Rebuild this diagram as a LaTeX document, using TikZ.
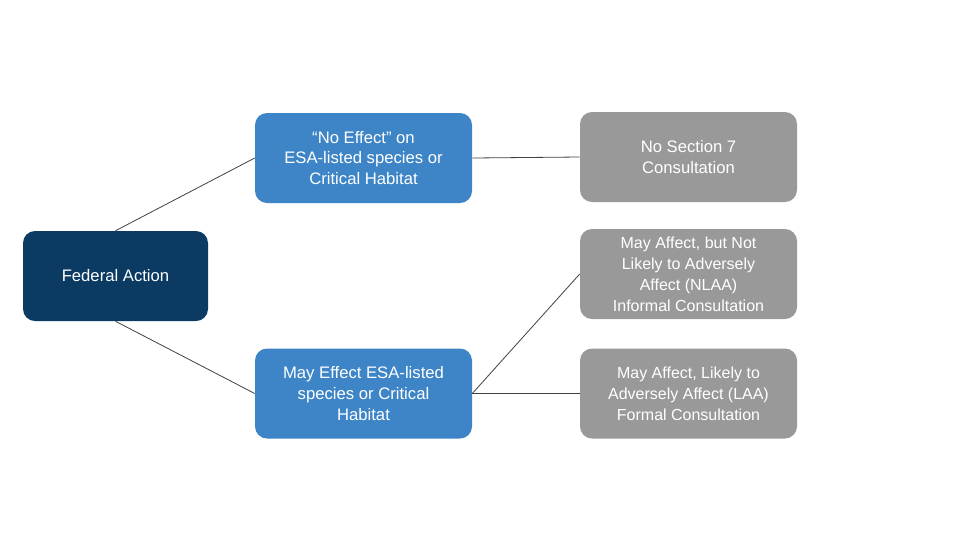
\documentclass[tikz,border=0pt]{standalone}
\usepackage{fontspec}
\setmainfont{Liberation Sans}
\definecolor{dblue}{HTML}{0B3A62}
\definecolor{mblue}{HTML}{3D85C6}
\definecolor{gbox}{HTML}{999999}
\begin{document}
\begin{tikzpicture}[x=0.75pt,y=-0.75pt,
  box/.style={rounded corners=9pt,minimum width=162.75pt,minimum height=67.5pt,text=white,align=center,inner sep=0pt,font=\fontsize{12.5}{15.5}\selectfont},
  ln/.style={draw=black!75,line width=0.6pt}]
\useasboundingbox (0,0) rectangle (960,540);
\node[box,fill=dblue,minimum width=138.75pt] (fa) at (115.5,276) {Federal Action};
\node[box,fill=mblue] (ne) at (363.5,158) {“No Effect” on\\ESA-listed species or\\Critical Habitat};
\node[box,fill=mblue] (me) at (363.5,393.5) {May Effect ESA-listed\\species or Critical\\Habitat};
\node[box,fill=gbox] (ns) at (688.5,157) {No Section 7\\Consultation};
\node[box,fill=gbox,font=\fontsize{12}{15.7}\selectfont] (nl) at (688.5,274) {May Affect, but Not\\Likely to Adversely\\Affect (NLAA)\\Informal Consultation};
\node[box,fill=gbox,font=\fontsize{12}{15.7}\selectfont] (la) at (688.5,393.5) {May Affect, Likely to\\Adversely Affect (LAA)\\Formal Consultation};
\draw[ln] (fa.north) -- (ne.west);
\draw[ln] (fa.south) -- (me.west);
\draw[ln] (ne.east) -- (ns.west);
\draw[ln] (me.east) -- (nl.west);
\draw[ln] (me.east) -- (la.west);
\end{tikzpicture}
\end{document}
